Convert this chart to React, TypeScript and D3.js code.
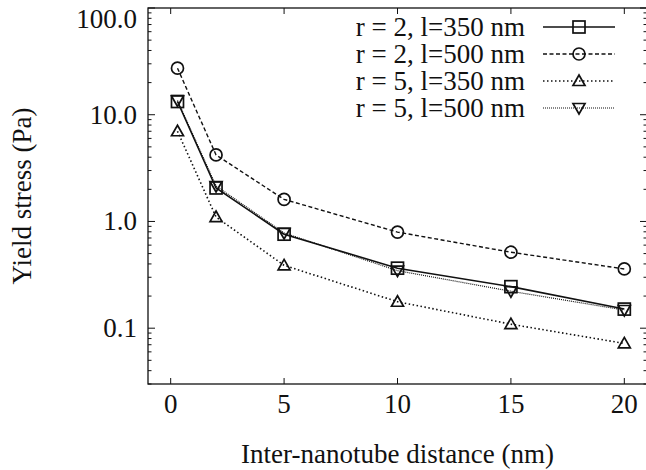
import React from 'react';
import * as d3 from 'd3';

// inter-nanotube distance (nm)
const distances = [0.3, 2, 5, 10, 15, 20];
const r2l350 = [13.3, 2.06, 0.76, 0.365, 0.245, 0.151];
const r2l500 = [27.3, 4.2, 1.61, 0.795, 0.515, 0.359];
const r5l350 = [7.0, 1.1, 0.388, 0.177, 0.109, 0.072];
const r5l500 = [13.6, 2.15, 0.78, 0.346, 0.222, 0.148];

const xTicks = [0, 5, 10, 15, 20];
const yTicks = [0.1, 1, 10, 100];

const series = [
    { name: 'r = 2, l=350 nm', values: r2l350, marker: 'square', dash: null, width: 1.6 },
    { name: 'r = 2, l=500 nm', values: r2l500, marker: 'circle', dash: '4,2.5', width: 1.4 },
    { name: 'r = 5, l=350 nm', values: r5l350, marker: 'up', dash: '1.5,2.5', width: 1.6 },
    { name: 'r = 5, l=500 nm', values: r5l500, marker: 'down', dash: '1,1', width: 1.2 },
];

const FONT = '"Liberation Serif", "Times New Roman", serif';

const Marker = ({ type, x, y }) => {
    const s = 6;
    const common = { fill: 'none', stroke: '#111', strokeWidth: 1.7 };
    if (type === 'square') return <rect x={x - s} y={y - s} width={2 * s} height={2 * s} {...common} />;
    if (type === 'circle') return <circle cx={x} cy={y} r={s} {...common} />;
    if (type === 'up') return <path d={`M${x},${y - s} L${x + s},${y + s * 0.75} L${x - s},${y + s * 0.75}Z`} {...common} />;
    return <path d={`M${x},${y + s} L${x + s},${y - s * 0.75} L${x - s},${y - s * 0.75}Z`} {...common} />;
};

const App = () => {
    const width = 646, height = 470;
    const left = 148, top = 8, right = 647, bottom = 384;
    const fs = 27;

    const x = d3.scaleLinear().domain([-1, 21]).range([left, right]);
    const y = d3.scaleLog().domain([0.03, 100]).range([bottom, top]);

    const minorY = [];
    for (const dec of [0.01, 0.1, 1, 10]) {
        for (let k = 2; k <= 9; k++) {
            const v = dec * k;
            if (v >= 0.03 && v <= 100) minorY.push(v);
        }
    }

    const line = d3.line<number>()
        .x((d, i) => x(distances[i]))
        .y(d => y(d));

    const legendX0 = 543, legendX1 = 615, legendTextX = 525;
    const legendY = [27, 54, 81, 108];

    return (
        <svg width={width} height={height} style={{ position: 'absolute', left: 0, top: 0, background: '#fff' }}
            fontFamily={FONT}>
            {/* frame */}
            <rect x={left} y={top} width={right - left} height={bottom - top} fill="none" stroke="#111" strokeWidth={1.3} />

            {/* x ticks, top and bottom */}
            {xTicks.map(t => (
                <g key={'xt' + t}>
                    <line x1={x(t)} x2={x(t)} y1={bottom} y2={bottom - 6} stroke="#111" strokeWidth={1} />
                    <line x1={x(t)} x2={x(t)} y1={top} y2={top + 6} stroke="#111" strokeWidth={1} />
                    <text x={x(t)} y={413} textAnchor="middle" fontSize={fs} fill="#111">{t}</text>
                </g>
            ))}

            {/* y ticks, left and right */}
            {yTicks.map(t => (
                <g key={'yt' + t}>
                    <line x1={left} x2={left + 7} y1={y(t)} y2={y(t)} stroke="#111" strokeWidth={1} />
                    <line x1={right} x2={right - 7} y1={y(t)} y2={y(t)} stroke="#111" strokeWidth={1} />
                    <text x={137} y={Math.max(y(t) + 9, 28)} textAnchor="end" fontSize={fs} fill="#111">{t.toFixed(1)}</text>
                </g>
            ))}
            {minorY.map(t => (
                <g key={'ym' + t}>
                    <line x1={left} x2={left + 3.5} y1={y(t)} y2={y(t)} stroke="#111" strokeWidth={1} />
                    <line x1={right} x2={right - 3.5} y1={y(t)} y2={y(t)} stroke="#111" strokeWidth={1} />
                </g>
            ))}

            {/* axis titles */}
            <text x={x(10)} y={463} textAnchor="middle" fontSize={fs} fill="#111">Inter-nanotube distance (nm)</text>
            <text transform={`translate(31,196) rotate(-90)`} textAnchor="middle" fontSize={fs} fill="#111">Yield stress (Pa)</text>

            {/* series */}
            {series.map(s => (
                <g key={s.name}>
                    <path d={line(s.values)} fill="none" stroke="#111" strokeWidth={s.width}
                        strokeDasharray={s.dash || undefined} />
                    {s.values.map((v, i) => <Marker key={i} type={s.marker} x={x(distances[i])} y={y(v)} />)}
                </g>
            ))}

            {/* legend */}
            {series.map((s, i) => (
                <g key={'lg' + i}>
                    <text x={legendTextX} y={legendY[i] + 9} textAnchor="end" fontSize={fs} fill="#111">{s.name}</text>
                    <line x1={legendX0} x2={legendX1} y1={legendY[i]} y2={legendY[i]} stroke="#111" strokeWidth={s.width}
                        strokeDasharray={s.dash || undefined} />
                    <Marker type={s.marker} x={(legendX0 + legendX1) / 2} y={legendY[i]} />
                </g>
            ))}
        </svg>
    );
};

export default App;
